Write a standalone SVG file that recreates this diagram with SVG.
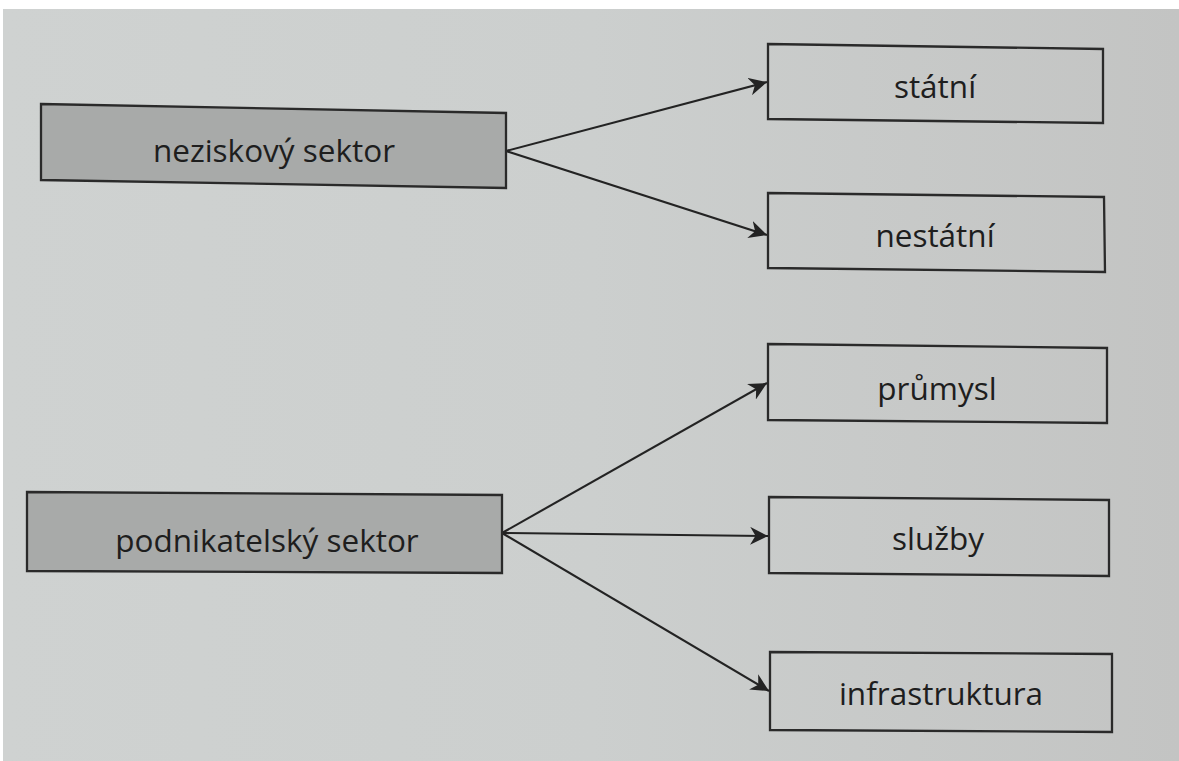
<svg xmlns="http://www.w3.org/2000/svg" width="1179" height="761" viewBox="0 0 1179 761">
<defs>
<linearGradient id="paper" x1="0" y1="0" x2="1" y2="0">
<stop offset="0" stop-color="#cfd2d1"/>
<stop offset="0.5" stop-color="#cccfce"/>
<stop offset="1" stop-color="#c3c4c3"/>
</linearGradient>
<marker id="ah" viewBox="0 0 10 10" refX="10" refY="5" markerWidth="8.5" markerHeight="8.5" orient="auto" markerUnits="strokeWidth">
<path d="M0,0 L10,5 L0,10 L3,5 Z" fill="#232323"/>
</marker>
</defs>
<style>
.box{fill:none;stroke:#2a2a2a;stroke-width:2.3}
.dark{fill:#a8aaa9;stroke:#2a2a2a;stroke-width:2.3}
.lbl{font-family:"Open Sans","Noto Sans",sans-serif;font-size:31.5px;fill:#1e1e1e;text-anchor:middle}
.con{stroke:#232323;stroke-width:2.1;fill:none;marker-end:url(#ah)}
</style>
<rect width="1179" height="761" fill="#ffffff"/>
<rect x="3" y="9" width="1176" height="752" fill="url(#paper)"/>
<g id="connectors">
<line class="con" x1="506" y1="151" x2="767" y2="82"/>
<line class="con" x1="506" y1="151" x2="767" y2="235"/>
<line class="con" x1="502" y1="533" x2="767" y2="383"/>
<line class="con" x1="502" y1="533" x2="768" y2="536"/>
<line class="con" x1="502" y1="533" x2="769" y2="691"/>
</g>
<g id="n_neziskovy">
<polygon class="dark" points="41,104 506,113 506,188 41,180"/>
<text class="lbl" x="274" y="162">neziskový sektor</text>
</g>
<g id="n_podnikatelsky">
<polygon class="dark" points="27,492 502,495 502,573 27,571"/>
<text class="lbl" x="267" y="552">podnikatelský sektor</text>
</g>
<g id="n_statni">
<polygon class="box" points="768,44 1103,49 1103,123 768,119"/>
<text class="lbl" x="935" y="98">státní</text>
</g>
<g id="n_nestatni">
<polygon class="box" points="768,193 1104,197 1105,272 768,268"/>
<text class="lbl" x="935" y="247">nestátní</text>
</g>
<g id="n_prumysl">
<polygon class="box" points="768,344 1107,348 1107,423 768,420"/>
<text class="lbl" x="937" y="400">průmysl</text>
</g>
<g id="n_sluzby">
<polygon class="box" points="769,497 1109,500 1109,576 769,573"/>
<text class="lbl" x="938" y="550">služby</text>
</g>
<g id="n_infra">
<polygon class="box" points="770,652 1112,654 1112,732 770,730"/>
<text class="lbl" x="941" y="705">infrastruktura</text>
</g>
</svg>
